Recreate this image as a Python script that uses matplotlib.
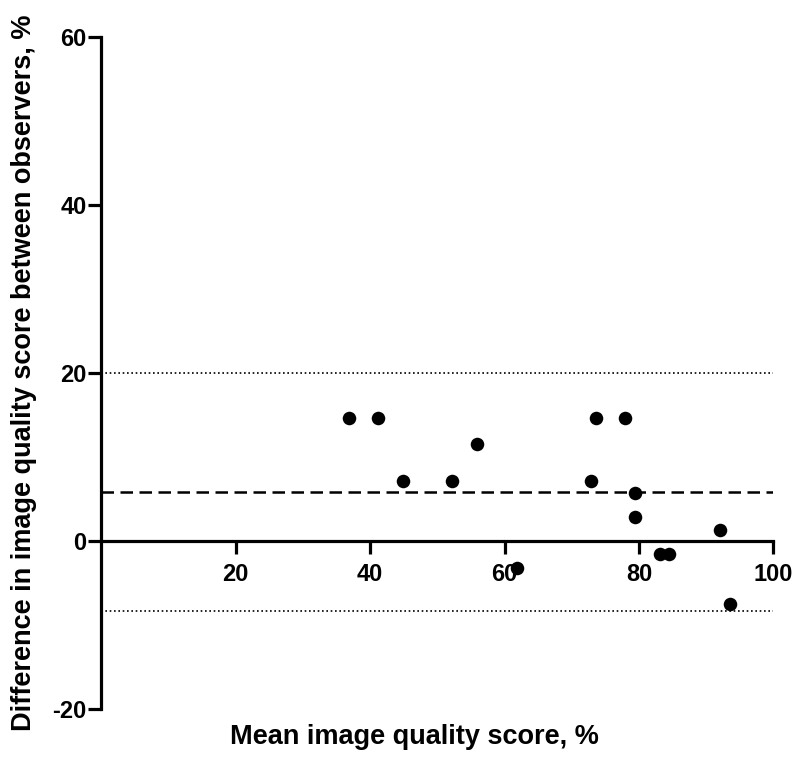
import matplotlib
matplotlib.use("Agg")
import matplotlib.pyplot as plt

# Data
mean_score = [36.8, 41.2, 44.9, 52.2, 55.9, 61.8, 72.9, 73.6, 77.9, 79.4, 79.4, 83.1, 84.5, 92.0, 93.5]
diff_score = [14.6, 14.6, 7.2, 7.2, 11.6, -3.2, 7.2, 14.6, 14.6, 5.7, 2.8, -1.6, -1.6, 1.3, -7.5]
bias = 5.8
upper_loa = 20.05
lower_loa = -8.3
x_ticks = [20, 40, 60, 80, 100]
y_ticks = [-20, 0, 20, 40, 60]

plt.rcParams['font.family'] = ['Liberation Sans', 'DejaVu Sans']
plt.rcParams['font.weight'] = 'bold'

fig = plt.figure(figsize=(7.97, 7.6), dpi=100)
W, H = 797, 760
left, right, top, bottom = 101.3, 773.3, 37, 709
ax = fig.add_axes([left / W, 1 - bottom / H, (right - left) / W, (bottom - top) / H])

ax.set_xlim(0, 100)
ax.set_ylim(-20, 60)

ax.axhline(bias, color='black', lw=1.8, dashes=(5, 2.6))
ax.axhline(upper_loa, color='black', lw=1.2, dashes=(1, 1.6))
ax.axhline(lower_loa, color='black', lw=1.2, dashes=(1, 1.6))

ax.scatter(mean_score, diff_score, s=95, color='black', zorder=5, clip_on=False, linewidths=0)

for s in ['top', 'right']:
    ax.spines[s].set_visible(False)
ax.spines['bottom'].set_position(('data', 0))
ax.spines['left'].set_linewidth(2.3)
ax.spines['bottom'].set_linewidth(2.3)

ax.set_xticks(x_ticks)
ax.set_yticks(y_ticks)
ax.set_xticklabels([str(v) for v in x_ticks])
ax.set_yticklabels([str(v) for v in y_ticks])
ax.tick_params(axis='both', direction='out', length=9.5, width=2.3, labelsize=17)
ax.tick_params(axis='x', pad=6)
ax.tick_params(axis='y', pad=1)
for lab in ax.get_xticklabels() + ax.get_yticklabels():
    lab.set_fontweight('bold')

ax.set_xlabel('Mean image quality score, %', fontsize=19.5, fontweight='bold')
ax.xaxis.set_label_coords((414 - left) / (right - left), -(737 - bottom) / (bottom - top))
ax.xaxis.label.set_va('center')
ax.set_ylabel('Difference in image quality score between observers, %', fontsize=19.5, fontweight='bold')
ax.yaxis.set_label_coords((24 - left) / (right - left), 0.5)
ax.yaxis.label.set_va('center')

fig.savefig('out.png', dpi=100)
